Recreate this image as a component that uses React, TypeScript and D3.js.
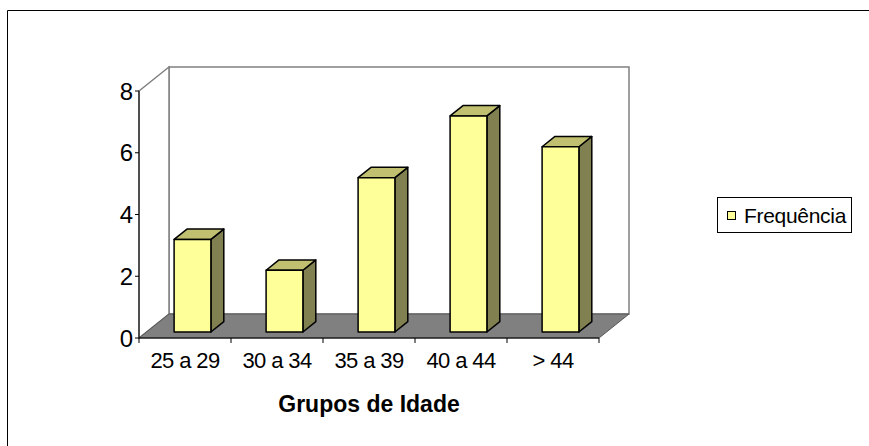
import { useEffect, useRef } from 'react';
import * as d3 from 'd3';

const categories = ['25 a 29', '30 a 34', '35 a 39', '40 a 44', '> 44'];
const frequencia = [3, 2, 5, 7, 6];
const yTicks = [0, 2, 4, 6, 8];
const seriesName = 'Frequência';
const xTitle = 'Grupos de Idade';

const FONT = '"Liberation Sans", Arial, sans-serif';

export default function App() {
  const svgRef = useRef<SVGSVGElement>(null);

  useEffect(() => {
    if (!svgRef.current) return;
    const svg = d3.select(svgRef.current);
    svg.selectAll('*').remove();

    // plot front plane and 3D depth offset
    const left = 139, right = 599, bottom = 338, top = 91;
    const depth = { dx: 30, dy: -24 };
    const f0 = 0.25, f1 = 0.68; // bar depth start / end as fraction of full depth

    const x = d3.scaleBand<string>().domain(categories).range([left, right]);
    const y = d3.scaleLinear().domain([0, 8]).range([bottom, top]);
    const pts = (arr: number[][]) => arr.map(p => p.join(',')).join(' ');

    // outer chart frame
    svg.append('path')
      .attr('d', `M7.5,446 L7.5,10.5 L869,10.5`)
      .attr('fill', 'none')
      .attr('stroke', '#000')
      .attr('stroke-width', 1);

    // back wall
    svg.append('polygon')
      .attr('points', pts([
        [left + depth.dx, top + depth.dy],
        [right + depth.dx, top + depth.dy],
        [right + depth.dx, bottom + depth.dy],
        [left + depth.dx, bottom + depth.dy],
      ]))
      .attr('fill', '#fff')
      .attr('stroke', '#808080')
      .attr('stroke-width', 1.5);

    // left side wall
    svg.append('polygon')
      .attr('points', pts([
        [left, top],
        [left + depth.dx, top + depth.dy],
        [left + depth.dx, bottom + depth.dy],
        [left, bottom],
      ]))
      .attr('fill', '#fff')
      .attr('stroke', '#808080')
      .attr('stroke-width', 1.5);

    // floor
    svg.append('polygon')
      .attr('points', pts([
        [left, bottom],
        [right, bottom],
        [right + depth.dx, bottom + depth.dy],
        [left + depth.dx, bottom + depth.dy],
      ]))
      .attr('fill', '#808080')
      .attr('stroke', '#555')
      .attr('stroke-width', 1);

    // bars
    const bw = x.bandwidth() / 2.5;
    const ddx = (f1 - f0) * depth.dx;
    const ddy = (f1 - f0) * depth.dy;
    const bars = svg.append('g')
      .attr('stroke', '#000')
      .attr('stroke-width', 1.5)
      .attr('stroke-linejoin', 'round');

    categories.forEach((c, i) => {
      const v = frequencia[i];
      const x0 = (x(c) as number) + (x.bandwidth() - bw) / 2 + f0 * depth.dx;
      const base = y(0) + f0 * depth.dy;
      const yt = y(v) + f0 * depth.dy;

      bars.append('polygon')
        .attr('points', pts([[x0 + bw, yt], [x0 + bw + ddx, yt + ddy], [x0 + bw + ddx, base + ddy], [x0 + bw, base]]))
        .attr('fill', '#808050');
      bars.append('polygon')
        .attr('points', pts([[x0, yt], [x0 + ddx, yt + ddy], [x0 + bw + ddx, yt + ddy], [x0 + bw, yt]]))
        .attr('fill', '#c0c070');
      bars.append('rect')
        .attr('x', x0)
        .attr('y', yt)
        .attr('width', bw)
        .attr('height', base - yt)
        .attr('fill', '#ffff99');
    });

    // y axis
    const yAxis = svg.append('g');
    yAxis.append('line')
      .attr('x1', left).attr('x2', left)
      .attr('y1', y(8)).attr('y2', y(0))
      .attr('stroke', '#000');
    yTicks.forEach(t => {
      yAxis.append('line')
        .attr('x1', left - 4).attr('x2', left)
        .attr('y1', y(t)).attr('y2', y(t))
        .attr('stroke', '#000');
      yAxis.append('text')
        .attr('x', left - 6)
        .attr('y', y(t) + 8.5)
        .attr('text-anchor', 'end')
        .attr('font-family', FONT)
        .attr('font-size', 24)
        .text(t);
    });

    // x axis
    const xAxis = svg.append('g');
    xAxis.append('line')
      .attr('x1', left).attr('x2', right)
      .attr('y1', bottom).attr('y2', bottom)
      .attr('stroke', '#000');
    [...categories.map(c => x(c) as number), right].forEach(px => {
      xAxis.append('line')
        .attr('x1', px).attr('x2', px)
        .attr('y1', bottom).attr('y2', bottom + 5)
        .attr('stroke', '#000');
    });
    categories.forEach(c => {
      xAxis.append('text')
        .attr('x', (x(c) as number) + x.bandwidth() / 2)
        .attr('y', 368)
        .attr('text-anchor', 'middle')
        .attr('font-family', FONT)
        .attr('font-size', 22)
        .attr('letter-spacing', -0.6)
        .text(c);
    });

    svg.append('text')
      .attr('x', 369)
      .attr('y', 411.5)
      .attr('text-anchor', 'middle')
      .attr('font-family', FONT)
      .attr('font-size', 23)
      .attr('font-weight', 'bold')
      .text(xTitle);

    // legend
    const legend = svg.append('g');
    legend.append('rect')
      .attr('x', 717.5).attr('y', 197.5)
      .attr('width', 134).attr('height', 35)
      .attr('fill', '#fff')
      .attr('stroke', '#000');
    legend.append('rect')
      .attr('x', 727.5).attr('y', 211.5)
      .attr('width', 8).attr('height', 8)
      .attr('fill', '#ffff99')
      .attr('stroke', '#000');
    legend.append('text')
      .attr('x', 744)
      .attr('y', 222.5)
      .attr('font-family', FONT)
      .attr('font-size', 21)
      .attr('letter-spacing', -0.3)
      .text(seriesName);
  }, []);

  return (
    <svg
      ref={svgRef}
      width={869}
      height={446}
      style={{ position: 'absolute', left: 0, top: 0, background: '#fff' }}
    />
  );
}
